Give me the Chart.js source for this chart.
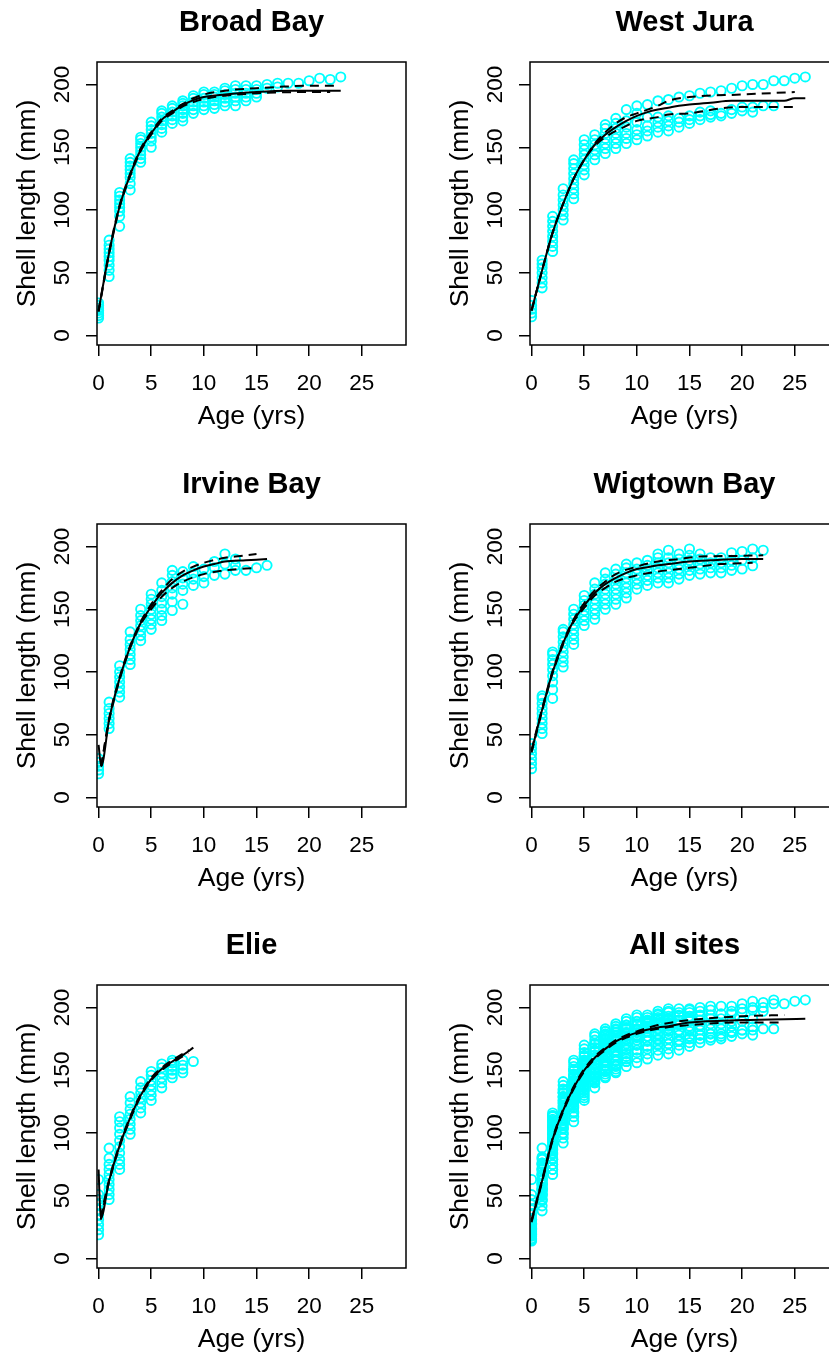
<!DOCTYPE html>
<html>
<head>
<meta charset="utf-8">
<script src="https://cdn.jsdelivr.net/npm/chart.js@4.4.0/dist/chart.umd.min.js"></script>
<style>
  html, body { margin:0; padding:0; background:#fff; overflow:hidden; width:829px; height:1356px; }
  .panel { position:absolute; width:433px; height:462px; }
</style>
</head>
<body>
<div class="panel" style="left:0;top:0"><canvas id="p0" width="433" height="462"></canvas></div>
<div class="panel" style="left:433px;top:0"><canvas id="p1" width="433" height="462"></canvas></div>
<div class="panel" style="left:0;top:462px"><canvas id="p2" width="433" height="462"></canvas></div>
<div class="panel" style="left:433px;top:462px"><canvas id="p3" width="433" height="462"></canvas></div>
<div class="panel" style="left:0;top:923px"><canvas id="p4" width="433" height="462"></canvas></div>
<div class="panel" style="left:433px;top:923px"><canvas id="p5" width="433" height="462"></canvas></div>
<script>
/* ---- axes ---- */
const ageTicks    = [0, 5, 10, 15, 20, 25];
const lengthTicks = [0, 50, 100, 150, 200];

/* ---- Broad Bay ---- */
const bbAges = [0,1,2,3,4,5,6,7,8,9,10,11,12,13,14,15,16,17,18,19,20,21,22,23];
const bbLengths = [
  [14,16,18,20,22,24,26], [47,52,56,60,63,66,69,72,76], [87,95,99,102,105,108,111,114],
  [116,121,126,129,132,135,138,141], [138,141,144,147,150,153,156,158], [150,155,158,161,164,167,170],
  [162,165,168,171,174,177,179], [169,172,175,178,181,183], [171,174,177,180,183,185,187],
  [177,180,183,186,189,191], [180,183,186,189,192,194], [181,184,187,190,192,194],
  [183,186,189,192,195,197], [183,187,190,193,196,199], [187,190,193,196,199], [190,193,196,199],
  [197,200], [198,201], [201], [201], [203], [205], [204], [206]
];
const bbFitAges = [0,1,2,3,4,5,6,7,8,9,10,12,15,18,20,23];
const bbFit     = [20,66,103,128,148,161,172,178,183.5,187.5,190,192,194,195,195,195];
const bbUpAges  = [0,1,2,3,4,5,6,7,8,9,10,12,13,15,17,20,22.8];
const bbUp      = [20,67,104,129,149,162,173,179,184.5,189,192,195,196,197,198,199,199];
const bbLoAges  = [0,1,2,3,4,5,6,7,8,9,10,12,15,20,22];
const bbLo      = [19,65,102,127,147,160,171,177,182.5,186,188.5,191,193,194,194];

/* ---- West Jura ---- */
const wjAges = [0,1,2,3,4,5,6,7,8,9,10,11,12,13,14,15,16,17,18,19,20,21,22,23,24,25,26];
const wjLengths = [
  [15,18,21,24,28], [38,42,46,50,54,57,60], [67,71,75,79,83,87,91,95],
  [92,96,100,104,108,112,117], [109,113,117,121,125,129,133,137,140], [128,132,136,140,144,148,152,156],
  [140,144,148,152,156,160], [145,149,153,157,161,165,168], [149,153,157,161,165,169,173],
  [153,157,161,166,171,180], [156,160,164,170,177,183], [159,163,167,174,184],
  [162,166,170,174,187], [163,167,171,175,188], [166,170,173,190], [169,172,175,191],
  [172,175,178,193], [174,176,179,194], [175,177,195], [177,180,197], [179,182,199],
  [178,182,200], [183,200], [183,203], [203], [205], [206]
];
const wjFitAges = [0,1,2,3,4,5,6,7,8,9,10,11,12,13,14,15,17,19,22,24,25,26];
const wjFit     = [20,52,82,105,125,140,152,160,166,171,175,178,180,181.5,183,184,185.5,187,187,187,189,189];
const wjUpAges  = [0,1,2,3,4,5,6,7,8,9,10,12,13,15,20,25];
const wjUp      = [20,52,82,105,125,140,153,162,169,174,177,183,187,190,192,194];
const wjLoAges  = [0,1,2,3,4,5,6,7,8,9,10,12,13,15,18,20,25];
const wjLo      = [20,52,82,105,125,140,151,158,163,167,171,174,176,177,181,182,182];

/* ---- Irvine Bay ---- */
const ibAges = [0,1,2,3,4,5,6,7,8,9,10,11,12,13,14,15,16];
const ibLengths = [
  [19,22,25,28,31], [55,59,63,67,71,76], [80,84,88,92,96,100,105],
  [106,110,114,118,122,126,132], [125,129,133,137,141,145,150], [134,138,142,146,150,154,158,162],
  [141,145,150,155,160,165,171], [149,156,162,167,172,177,181], [154,165,170,175,180],
  [169,174,179,184], [171,176,182], [177,183,188], [178,186,194], [181,185,190],
  [181], [183], [185]
];
const ibFitAges = [0,0.25,1,2,3,4,5,6,7,8,9,10,11,12,14,16];
const ibFit     = [42,25,62,95,120,139,152,163,171,177,181,184,186,188,189,190];
const ibUpAges  = [0.25,1,2,3,4,5,6,7,8,9,10,12,13,15];
const ibUp      = [25,63,96,121,140,154,165,174,180,184,187,191,192,194];
const ibLoAges  = [0.25,1,2,3,4,5,6,7,8,10,12,15];
const ibLo      = [25,61,94,119,138,150,160,167,172,178,181,183];

/* ---- Wigtown Bay ---- */
const wtAges = [0,1,2,3,4,5,6,7,8,9,10,11,12,13,14,15,16,17,18,19,20,21,22];
const wtLengths = [
  [23,27,31,35,39,43], [51,55,59,63,67,71,75,79,81], [79,86,92,97,102,106,110,114,116],
  [104,108,112,116,120,124,128,132,134], [122,126,130,134,138,142,146,150], [137,141,145,149,153,157,161],
  [142,146,150,154,158,162,166,171], [150,154,158,162,166,170,174,179], [154,158,162,166,170,174,178,182],
  [159,163,167,171,175,179,183,186], [166,170,174,178,182,187], [169,173,177,181,185,189],
  [171,175,179,183,187,191,194], [171,175,179,183,187,191,197], [174,178,182,186,190,194],
  [177,181,185,189,193,198], [178,182,186,190,194], [179,183,187,191], [179,183,187,191],
  [181,185,189,195], [182,189,196], [184.6,191,198], [197]
];
const wtFitAges = [0,1,2,3,4,5,6,7,8,9,10,11,12,13,15,17,20,22];
const wtFit     = [37,70,100,123,141,153,163,170,175,179,182,183.5,185,186,188,189,190,190];
const wtUpAges  = [0,1,2,3,4,5,6,7,8,10,12,14,16,20,22];
const wtUp      = [38,71,101,124,142,155,165,172,178,184,188,190,192,192.5,193];
const wtLoAges  = [0,1,2,3,4,5,6,7,8,10,12,15,18,21];
const wtLo      = [36,69,99,122,140,151,161,167,172,177,180,183,186,187];

/* ---- Elie ---- */
const elAges = [0,1,2,3,4,5,6,7,8,9];
const elLengths = [
  [19,23,27,31,35,39,43,47,51,63], [47,51,55,59,63,67,71,75,80,88],
  [71,75,79,84,89,94,99,104,109,113], [99,103,107,111,115,119,124,129],
  [116,120,124,128,132,136,141], [126,130,134,138,142,146,149], [136,140,144,148,152,155],
  [144,147,150,153,156,158], [148,151,154,158], [157]
];
const elFitAges = [0,0.2,1,2,3,4,5,6,7,8,9];
const elFit     = [71,32,62,90,112,130,143,151,157,162,168];
const elUpAges  = [0.2,1,2,3,4,5,6,7,8,8.6];
const elUp      = [33,63,91,113,131,144,152,158,163,166];
const elLoAges  = [0.2,1,2,3,4,5,6,7,8,8.5];
const elLo      = [31,61,89,111,129,142,150,156,161,164];

/* ---- All sites (fitted curves) ---- */
const allFitAges = [0,1,2,3,4,5,6,7,8,9,10,12,13,15,20,26];
const allFit     = [30,62,95,118,136,150,160,167,173,177,180,184,185,188,190,191];
const allUpAges  = [0,1,2,3,4,5,6,7,8,9,10,12,15,20,24];
const allUp      = [31,63,96,119,137,151,161,168,174,178,181,186,190,193,194];
const allLoAges  = [0,1,2,3,4,5,6,7,8,9,10,12,15,20,24];
const allLo      = [29,61,94,117,135,149,159,166,172,176,179,183,186,188,188];

const FONT = "'Liberation Sans', Arial, Helvetica, sans-serif";
const CYAN = '#00ffff';

function toPoints(ages, lengths) {
  const out = [];
  ages.forEach((a, i) => lengths[i].forEach(v => out.push({x: a, y: v})));
  return out;
}
function toLine(ages, vals) {
  return ages.map((a, i) => ({x: a, y: vals[i]}));
}

// every site's points, pooled
const allPoints = []
  .concat(toPoints(bbAges, bbLengths), toPoints(wjAges, wjLengths), toPoints(ibAges, ibLengths),
          toPoints(wtAges, wtLengths), toPoints(elAges, elLengths));

const boxPlugin = {
  id: 'box',
  afterDraw(chart) {
    const {ctx, chartArea: a} = chart;
    ctx.save();
    ctx.strokeStyle = '#000';
    ctx.lineWidth = 1.5;
    ctx.strokeRect(a.left, a.top, a.right - a.left, a.bottom - a.top);
    ctx.restore();
  }
};

function lineSet(data, dash) {
  return { data, showLine: true, borderColor: '#000', borderWidth: 2, borderDash: dash,
           pointRadius: 0, cubicInterpolationMode: 'monotone', fill: false };
}

function drawPanel(id, title, points, fit, up, lo) {
  new Chart(document.getElementById(id), {
    type: 'scatter',
    data: {
      datasets: [
        lineSet(fit, []),
        lineSet(up, [9, 6]),
        lineSet(lo, [9, 6]),
        { data: points, showLine: false, pointStyle: 'circle', pointRadius: 4.6, pointHoverRadius: 4.6,
          pointBorderWidth: 1.9, borderColor: CYAN, backgroundColor: 'rgba(0,0,0,0)' },
      ],
    },
    options: {
      responsive: false, devicePixelRatio: 1, animation: false,
      layout: { padding: { left: 0, right: 27, top: 0, bottom: 0 } },
      plugins: {
        legend: { display: false }, tooltip: { enabled: false },
        title: { display: true, text: title, fullSize: false, color: '#000',
                 font: { family: FONT, size: 29, weight: 'bold' }, padding: { top: 5.5, bottom: 21.7 } },
      },
      scales: {
        x: {
          type: 'linear', min: -0.15, max: 29.2,
          afterBuildTicks: s => { s.ticks = ageTicks.map(v => ({value: v})); },
          afterFit: s => { s.height = 117; },
          border: { display: false },
          grid: { drawOnChartArea: false, drawTicks: true, tickLength: 11, color: '#000', lineWidth: 1.5 },
          ticks: { color: '#000', font: { family: FONT, size: 22.5 }, padding: 14, maxRotation: 0 },
          title: { display: true, text: 'Age (yrs)', color: '#000', font: { family: FONT, size: 26.5 },
                   padding: { top: 0, bottom: 29 } },
        },
        y: {
          type: 'linear', min: -7.5, max: 217.9,
          afterBuildTicks: s => { s.ticks = lengthTicks.map(v => ({value: v})); },
          afterFit: s => { s.width = 97; },
          border: { display: false },
          grid: { drawOnChartArea: false, drawTicks: true, tickLength: 11, color: '#000', lineWidth: 1.5 },
          ticks: { color: '#000', font: { family: FONT, size: 22.5 }, padding: 4.2,
                   minRotation: 90, maxRotation: 90, crossAlign: 'center' },
          title: { display: true, text: 'Shell length (mm)', color: '#000', font: { family: FONT, size: 26.5 },
                   padding: { top: 12, bottom: 0 } },
        },
      },
    },
    plugins: [boxPlugin],
  });
}

drawPanel('p0', 'Broad Bay', toPoints(bbAges, bbLengths),
  toLine(bbFitAges, bbFit), toLine(bbUpAges, bbUp), toLine(bbLoAges, bbLo));
drawPanel('p1', 'West Jura', toPoints(wjAges, wjLengths),
  toLine(wjFitAges, wjFit), toLine(wjUpAges, wjUp), toLine(wjLoAges, wjLo));
drawPanel('p2', 'Irvine Bay', toPoints(ibAges, ibLengths),
  toLine(ibFitAges, ibFit), toLine(ibUpAges, ibUp), toLine(ibLoAges, ibLo));
drawPanel('p3', 'Wigtown Bay', toPoints(wtAges, wtLengths),
  toLine(wtFitAges, wtFit), toLine(wtUpAges, wtUp), toLine(wtLoAges, wtLo));
drawPanel('p4', 'Elie', toPoints(elAges, elLengths),
  toLine(elFitAges, elFit), toLine(elUpAges, elUp), toLine(elLoAges, elLo));
drawPanel('p5', 'All sites', allPoints,
  toLine(allFitAges, allFit), toLine(allUpAges, allUp), toLine(allLoAges, allLo));
</script>
</body>
</html>
